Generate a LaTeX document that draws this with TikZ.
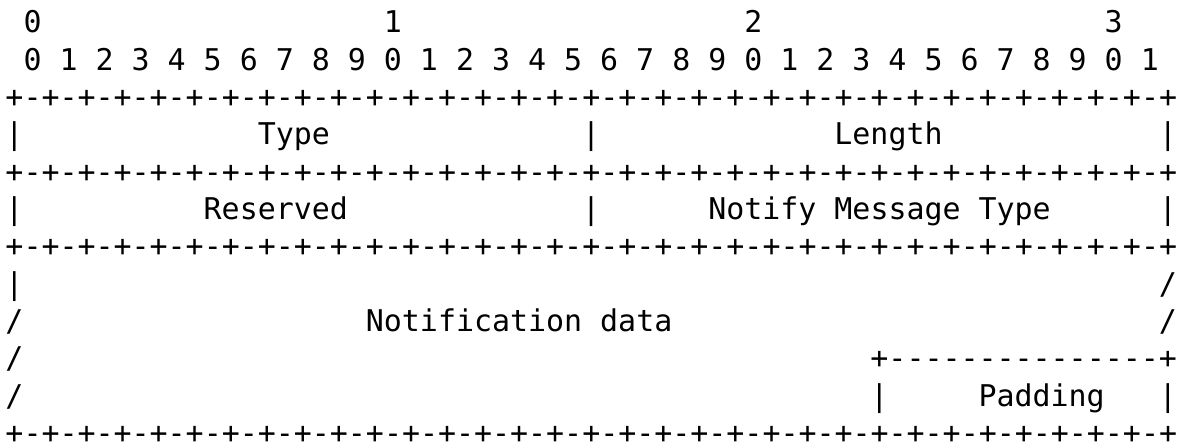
\documentclass[tikz,border=0pt]{standalone}
\usepackage{fontspec}
\setmonofont{DejaVu Sans Mono}
\usepackage{xcolor}
\definecolor{vink}{HTML}{000000}

\tikzset{chars/.style={anchor=base west, inner sep=0pt, outer sep=0pt, text=vink, font=\ttfamily\fontsize{14.97pt}{18pt}\selectfont}}

\begin{document}
\begin{tikzpicture}[x=9.01pt, y=-18.665pt]
	\useasboundingbox (-0.305,-0.876) rectangle (65.51,11.07);
	% bit ruler
	\foreach \d in {0,...,3} \node[chars] (tens\d) at (1+20*\d,0) {\d};
	\foreach \i in {0,...,31} {
		\pgfmathtruncatemacro{\d}{mod(\i,10)}
		\node[chars] (bit\i) at (1+2*\i,1) {\d};
	}
	% borders
	\node[chars] (border2) at (0,2) {+-+-+-+-+-+-+-+-+-+-+-+-+-+-+-+-+-+-+-+-+-+-+-+-+-+-+-+-+-+-+-+-+};
	\node[chars] (border4) at (0,4) {+-+-+-+-+-+-+-+-+-+-+-+-+-+-+-+-+-+-+-+-+-+-+-+-+-+-+-+-+-+-+-+-+};
	\node[chars] (border6) at (0,6) {+-+-+-+-+-+-+-+-+-+-+-+-+-+-+-+-+-+-+-+-+-+-+-+-+-+-+-+-+-+-+-+-+};
	\node[chars, text depth=0pt] (border11) at (0,11) {+-+-+-+-+-+-+-+-+-+-+-+-+-+-+-+-+-+-+-+-+-+-+-+-+-+-+-+-+-+-+-+-+};
	% word-1
	\node[chars] (bar3l) at (0,3) {|};
	\node[chars] (type) at (14,3) {Type};
	\node[chars] (bar3m) at (32,3) {|};
	\node[chars] (length) at (46,3) {Length};
	\node[chars] (bar3r) at (64,3) {|};
	% word-2
	\node[chars] (bar5l) at (0,5) {|};
	\node[chars] (reserved) at (11,5) {Reserved};
	\node[chars] (bar5m) at (32,5) {|};
	\node[chars] (notifytype) at (39,5) {Notify Message Type};
	\node[chars] (bar5r) at (64,5) {|};
	% notification data
	\node[chars] (bar7l) at (0,7) {|};
	\node[chars] (cut7r) at (64,7) {/};
	\node[chars] (cut8l) at (0,8) {/};
	\node[chars] (notifdata) at (20,8) {Notification data};
	\node[chars] (cut8r) at (64,8) {/};
	\node[chars] (cut9l) at (0,9) {/};
	\node[chars] (padtop) at (48,9) {+---------------+};
	\node[chars] (cut10l) at (0,10) {/};
	\node[chars] (bar10m) at (48,10) {|};
	\node[chars] (padding) at (54,10) {Padding};
	\node[chars] (bar10r) at (64,10) {|};
\end{tikzpicture}
\end{document}
